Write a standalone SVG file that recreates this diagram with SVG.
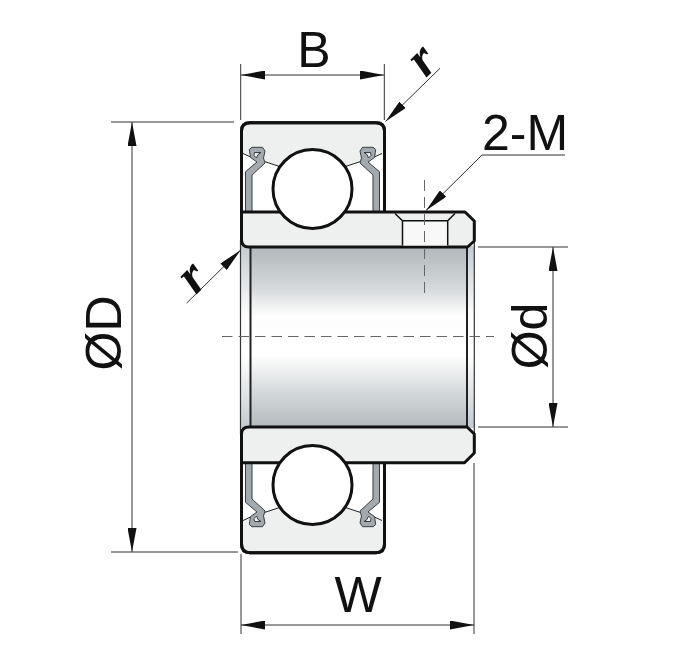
<svg xmlns="http://www.w3.org/2000/svg" width="680" height="650" viewBox="0 0 680 650">
<defs>
<linearGradient id="bore" x1="0" y1="0" x2="0" y2="1">
<stop offset="0" stop-color="#b2b8bb"/><stop offset="0.22" stop-color="#d3d7d9"/><stop offset="0.38" stop-color="#fdfdfd"/><stop offset="0.6" stop-color="#fff"/><stop offset="0.8" stop-color="#d6dadc"/><stop offset="1" stop-color="#b4babd"/>
</linearGradient>
<linearGradient id="strip" x1="0" y1="0" x2="0" y2="1">
<stop offset="0" stop-color="#c4cbd0"/><stop offset="0.38" stop-color="#fdfdfd"/><stop offset="0.6" stop-color="#fff"/><stop offset="1" stop-color="#c4cbd0"/>
</linearGradient>
<marker id="a" viewBox="0 0 24 9" refX="24" refY="4.500" markerWidth="24" markerHeight="9" markerUnits="userSpaceOnUse" orient="auto-start-reverse"><path d="M0 0L24 4.500L0 9Z" fill="#111"/></marker>
<g id="seal">
<path d="M243 153.500L250 156.700M265 161.700L279 166.300" stroke="#222" stroke-width="1" fill="none"/>
<path fill-rule="evenodd" d="M245.500 212V171.700L257 162L250.500 157.500L249.300 149.500L252 147.300H262.500L265 151L263.500 158L265 163L252 175V212ZM254.500 152.500L254 155.500L256.500 158L258 154.500L261 152.500Z" fill="#a3aaaf" stroke="#3a3d40" stroke-width="1"/>
</g>
<g id="seals"><use href="#seal"/><use href="#seal" transform="translate(625 0) scale(-1 1)"/></g>
</defs>
<style>
.o{stroke:#111;stroke-width:3;stroke-linejoin:round;fill:#eef0ef}
.e{stroke:#111;stroke-width:3;stroke-linejoin:round;fill:none}
.d{stroke:#333;stroke-width:1;fill:none}
.h{stroke:#666;stroke-width:1;fill:none}
text{font-family:"Liberation Sans",Arial,sans-serif;fill:#111;font-size:50px;text-anchor:middle}
.r{font-family:"Liberation Serif",serif;font-weight:bold;font-style:italic;font-size:52px}
</style>
<g id="bearing">
<rect x="241" y="246" width="233" height="182" fill="url(#strip)"/>
<rect x="250.500" y="247" width="216.500" height="180" fill="url(#bore)"/>
<path d="M250.500 246V428M467 246V428" stroke="#222" stroke-width="2" fill="none"/>
<path d="M240.500 240V434M474.300 240V434" stroke="#333" stroke-width="1.200" fill="none"/>
<path d="M467 247L474 241M467 427L474 434M241 430L250.500 427" stroke="#222" stroke-width="1.200" fill="none"/>
<path id="outer-top" class="o" d="M241.500 214V131Q241.500 122.700 250 122.700H376Q384.500 122.700 384.500 131V214Z"/>
<path id="outer-bottom" class="o" d="M241.500 460V544Q241.500 552.700 250 552.700H376Q384.500 552.700 384.500 544V460Z"/>
<path d="M243 153.500L279 166.300H346L382.500 153.500V212H243Z" fill="#fff"/>
<path d="M243 520.500L279 507.700H346L382.500 520.500V462H243Z" fill="#fff"/>
<use href="#seals"/>
<use href="#seals" transform="translate(0 674) scale(1 -1)"/>
<path class="e" d="M241.500 214V131Q241.500 122.700 250 122.700H376Q384.500 122.700 384.500 131V214"/>
<path class="e" d="M241.500 460V544Q241.500 552.700 250 552.700H376Q384.500 552.700 384.500 544V460"/>
<path class="o" d="M241.500 212H465L474.300 221V241L467.500 247H249Q241.500 247 241.500 240Z"/>
<path class="o" d="M249 427H467L474.300 434V453L464.500 462.700H241.500V434Q241.500 427 249 427Z"/>
<path d="M403 221.500H447.500V245.500H403Z" fill="#f8f8f8"/>
<path d="M395 213.500L402.500 220.700H447.700L455 213.500M402.500 220.700V245.500M447.700 220.700V245.500" stroke="#111" stroke-width="1.500" fill="none"/>
<circle cx="312.500" cy="189" r="39.500" fill="#fff" stroke="#111" stroke-width="3"/>
<circle cx="312.500" cy="485" r="39.500" fill="#fff" stroke="#111" stroke-width="3"/>
</g>
<g id="connectors">
<path class="h" stroke-dasharray="11 6" d="M424.500 180V293"/>
<path class="h" stroke-dasharray="10.500 6" d="M222 336.500H494"/>
<path class="d" d="M240.700 64V120M384.300 64V120"/>
<path class="d" d="M241 75H384" marker-start="url(#a)" marker-end="url(#a)"/>
<path class="d" d="M111 122H234M111 552H238"/>
<path class="d" d="M132 122V552" marker-start="url(#a)" marker-end="url(#a)"/>
<path class="d" d="M241 554V634M474 463V634"/>
<path class="d" d="M241 625H474" marker-start="url(#a)" marker-end="url(#a)"/>
<path class="d" d="M478 247H568M478 427H568"/>
<path class="d" d="M553 247V427" marker-start="url(#a)" marker-end="url(#a)"/>
<path class="d" d="M440 68.300L385.500 121.500" marker-end="url(#a)"/>
<path class="d" d="M186.700 303L240.700 250" marker-end="url(#a)"/>
<path class="d" d="M565 155H482L426 210.500" marker-end="url(#a)"/>
</g>
<g id="labels">
<text x="314" y="67">B</text>
<text x="358" y="612">W</text>
<text x="525" y="150" font-size="45">2-M</text>
<text transform="translate(121 333) rotate(-90)">ØD</text>
<text transform="translate(547 336) rotate(-90)">Ød</text>
<text class="r" transform="translate(433 71) rotate(-45)">r</text>
<text class="r" transform="translate(203 288) rotate(-45)">r</text>
</g>
</svg>
